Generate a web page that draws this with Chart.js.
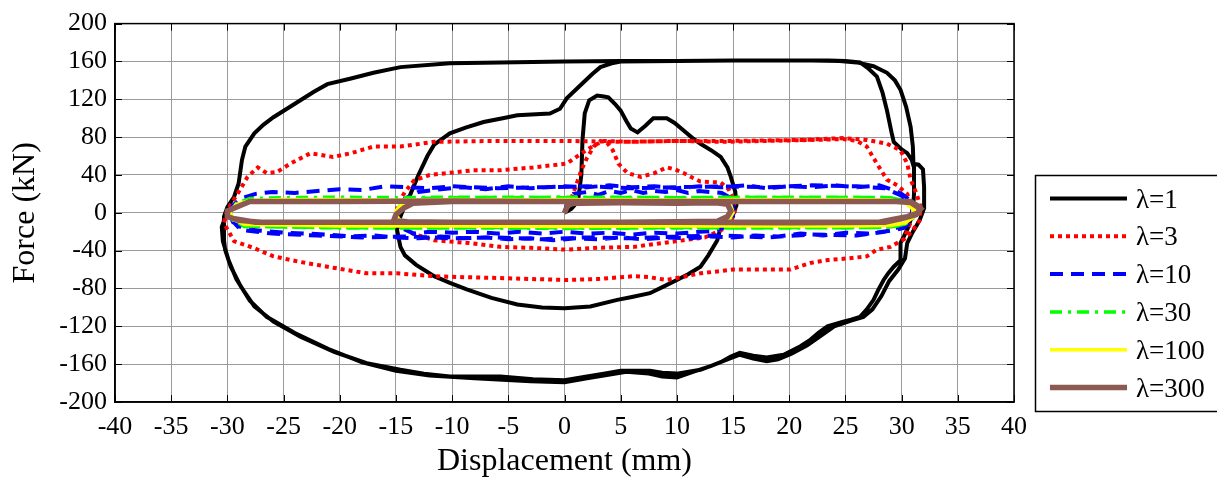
<!DOCTYPE html>
<html>
<head>
<meta charset="utf-8">
<script src="https://cdn.jsdelivr.net/npm/chart.js@4.4.1/dist/chart.umd.min.js"></script>
<style>
  html, body { margin: 0; padding: 0; background: #fff; }
  #wrap { width: 1217px; height: 478px; }
</style>
</head>
<body>
<div id="wrap"><canvas id="hyst" width="1217" height="478"></canvas></div>
<script>
// tick labels
const xTickValues = [-40, -35, -30, -25, -20, -15, -10, -5, 0, 5, 10, 15, 20, 25, 30, 35, 40];
const yTickValues = [-200, -160, -120, -80, -40, 0, 40, 80, 120, 160, 200];

const seriesLabels = ['λ=1', 'λ=3', 'λ=10', 'λ=30', 'λ=100', 'λ=300'];

// [displacement mm, force kN]
const lambda1 = [
  [0,0],[0.6,4],[1.2,12],[1.5,40],[1.6,77],[1.8,105],[2.2,119],[2.9,124],[3.5,123],[3.9,122],[4.5,115],
  [5,108],[5.5,97],[5.9,89],[6.5,85],[7.2,92],[7.9,100],[9.1,100],[9.8,95],[10.6,87],[11.4,79],[12.1,73],
  [13.2,65],[13.9,59],[14.5,48],[14.8,38],[15.2,22],[15.3,8],[15,-2],[14.4,-8],[13.9,-15],[13.6,-29],
  [12.8,-45],[12.1,-57],[11,-65],[10,-71],[8.8,-78],[7.6,-85],[6,-89],[4.7,-92],[2.3,-99],[0,-101],
  [-2,-100],[-4.2,-97],[-6.5,-90],[-8.7,-81],[-10.2,-74],[-11.6,-67],[-13.2,-55],[-14.2,-45],[-14.6,-36],
  [-14.9,-18],[-14.6,-4],[-14.2,8],[-13.7,20],[-13,40],[-12.2,60],[-11.6,72],[-10.2,84],[-8.8,90],
  [-7.2,96],[-5.5,100],[-4.2,103],[-1.3,105],[-0.4,110],[0.2,121],[1,130],[1.7,138],[2.5,147],[3.2,154],
  [4.2,158],[5,160],[10,160.5],[15,161],[20,161],[23.5,161],[25,160.5],[26.3,159],[27,153],[27.8,144],
  [28.3,127],[28.7,108],[29.1,85],[29.3,75],[30,67],[30.5,63],[30.9,56],[31.1,48],[31.1,20],[31,0],
  [30.6,-15],[30.2,-25],[29.9,-32],[29.9,-50],[29.3,-57],[28.8,-64],[28.4,-71],[27.9,-82],[27.5,-92],
  [26.9,-102],[26.3,-110],[25.5,-113],[24.8,-115],[23.4,-120],[22.6,-127],[21.9,-134],[21,-141],
  [19.5,-150],[18,-153],[16.8,-151],[15.6,-148],[14.8,-152],[13.9,-158],[12.1,-166],[10,-170],[8.7,-169],
  [7.6,-167],[5,-167],[3.5,-170],[2,-173],[0,-177],[-2.8,-176],[-5.7,-173],[-10.2,-173],[-12.5,-170],
  [-14.6,-166],[-17.6,-159],[-20.5,-147],[-23.5,-131],[-25.9,-115],[-27.6,-99],[-28.8,-78],[-29.7,-57],
  [-30.2,-39],[-30.3,-29],[-30.3,-4],[-30,6],[-29.4,17],[-29,31],[-28.7,56],[-28.4,70],[-27.6,84],
  [-26.8,93],[-25.9,101],[-24.7,110],[-23.5,119],[-22.3,128],[-21.1,136],[-19,142],[-17,148],[-14.6,154],
  [-10.2,158],[-5.7,159],[0,160],[5,160.5],[15,161],[22,161],[24.5,160.5],[26,159],[27.5,155],[28.7,148],
  [29.4,140],[29.9,130],[30.4,112],[30.8,91],[31,70],[31.05,52],[31.5,51],[31.9,46],[32,27],[32,5],
  [31.6,-8],[31,-20],[30.5,-32],[30.3,-48],[29.7,-60],[28.9,-72],[28.2,-88],[27.4,-102],[26.6,-110],
  [25.5,-114],[24,-120],[22.8,-130],[21.6,-140],[20.2,-149],[19,-155],[18,-157],[16.8,-154],[15.6,-150],
  [14.5,-155],[13,-162],[11.5,-168],[10,-174],[8.7,-173],[7.5,-170],[5.5,-168],[3.5,-172],[2,-175],
  [0,-179],[-3,-178],[-8,-175],[-12,-172],[-15,-167],[-18,-158],[-21,-144],[-24,-127],[-26.5,-110],
  [-28,-93],[-29.2,-70],[-29.9,-50],[-30.4,-30],[-30.5,-15],[-30.2,-5]
];

const lambda3 = [
  [0,0],[0.5,12],[1,28],[1.5,45],[2,58],[2.6,70],[3.2,76],[3.8,74],[4.3,66],[4.8,52],[5.6,42],[6.8,38],
  [8,42],[9.1,48],[9.8,46],[10.6,42],[11.4,37],[12.1,33],[13.9,32],[14.6,25],[15,15],[15.2,3],[14.8,-10],
  [14,-18],[12.5,-26],[10.6,-29],[8,-33],[6.2,-36],[3,-37],[0.2,-39],[-3,-37],[-5.7,-36],[-8.5,-32],
  [-11.6,-29],[-13.5,-22],[-14.6,-12],[-15,-2],[-14.8,10],[-14.2,22],[-13.4,34],[-12,40],[-10.4,42],
  [-8.1,45],[-5.7,45],[-2.8,48],[0.2,52],[1.4,62],[2.6,71],[3.5,76],[6,75],[10,76],[14,75],[18,76],
  [22,77],[24.8,78],[26,76],[26.9,70],[27.8,52],[28.7,35],[29.6,29],[30.5,20],[31,5],[30.8,-10],
  [30.2,-28],[29,-36],[27.8,-39],[26.9,-46],[25.4,-48],[23.4,-50],[21.9,-53],[20.1,-60],[17,-60],
  [15,-60],[12.1,-64],[9.1,-71],[7.5,-68],[6.2,-67],[3,-70],[0.2,-71],[-3,-70],[-5.7,-69],[-9,-68],
  [-11.6,-67],[-14.9,-64],[-17.6,-64],[-20.6,-58],[-23.5,-52],[-25.9,-46],[-27.7,-37],[-29.4,-30],
  [-30.3,-11],[-30,3],[-29.1,20],[-28.8,26],[-28.2,38],[-27.3,48],[-26.5,42],[-25.6,43],[-24.4,52],
  [-22.6,63],[-20.6,59],[-19,63],[-17,70],[-14.6,70],[-11.6,75],[-6,76],[0,76],[5,75],[10,76],[15,76],
  [21,77],[24.8,79],[26.9,77],[28.7,73],[29.9,66],[30.5,52],[30.8,35],[31.3,21],[31.7,6],[31.6,-8],
  [30.9,-20],[30.2,-28]
];

const lambda10 = [
  [0,0],[0.3,12],[0.8,20],[2,22],[3,19],[4,23],[5,21],[6,24],[7,21],[8,23],[9,22],[10,24],[11,21],[12,23],
  [13,22],[14,21],[14.6,17],[15,8],[15,-4],[14.4,-14],[13.5,-19],[12,-20],[10,-22],[8,-21],[6,-23],[4,-21],
  [2,-22],[0,-20],[-2,-22],[-4,-20],[-6,-22],[-8,-20],[-10,-21],[-12,-20],[-13.4,-22],[-14.5,-16],[-15,-6],
  [-14.8,6],[-14.2,15],[-13,22],[-11,25],[-9,27],[-7,25],[-5,28],[-3,26],[0,28],[2,27],[4,29],[6,27],
  [8,28],[10,26],[12,28],[14,27],[16,29],[18,26],[20,28],[22,27],[24,29],[26,27],[28,29],[29.3,24],
  [30,20],[30.8,13],[31.2,4],[31,-8],[30.2,-16],[29,-19],[27,-22],[25,-21],[23,-24],[21,-22],[19,-25],
  [17,-24],[15,-26],[13,-25],[11,-27],[9,-26],[7,-28],[5,-26],[3,-28],[1,-27],[-1,-29],[-3,-27],[-5,-28],
  [-7,-26],[-9,-27],[-11,-25],[-13,-27],[-15,-26],[-17,-24],[-19,-25],[-21,-23],[-23,-22],[-25,-21],
  [-27,-19],[-28.5,-17],[-29.5,-10],[-29.8,0],[-29.5,8],[-28.8,15],[-27.5,20],[-26,22],[-24,21],[-22,23],
  [-20,25],[-18,24],[-16,28],[-14,27],[-12,26],[-10,28],[-6,26],[-2,27],[2,28],[6,26],[10,27],[14,28],
  [18,27],[22,29],[26,28],[28.5,26],[30,18],[31,6],[30.8,-6],[30,-14],[28.5,-20],[26,-24],[22,-23],
  [18,-26],[14,-24],[10,-25],[6,-27],[2,-26],[-2,-28],[-6,-26],[-10,-27],[-14,-25],[-18,-26],[-22,-24],
  [-26,-22],[-28.8,-18],[-29.6,-8]
];

const lambda30 = [
  [0,0],[0.4,10],[1,14],[5,15],[10,15.5],[14,15],[14.8,10],[15,0],[14.6,-10],[13.5,-14],[10,-14.5],
  [5,-14],[0,-14.5],[-5,-14],[-10,-14.5],[-14,-14],[-14.8,-8],[-15,2],[-14.5,10],[-13.5,15],[-10,16],
  [-5,16.5],[0,16],[5,16.5],[10,16],[15,16.5],[20,16],[25,16.5],[29,16],[30.3,13],[31,5],[31,-5],
  [30.3,-12],[29,-15],[25,-16],[20,-15.5],[15,-16],[10,-15.5],[5,-16],[0,-16],[-5,-15.5],[-10,-16],
  [-15,-16],[-20,-15.5],[-25,-15],[-28.5,-14],[-29.5,-8],[-29.8,2],[-29.2,10],[-28,15],[-25,16],
  [-20,16.5],[-15,16],[-10,16.5],[-5,16],[0,16.5],[10,16],[20,16.5],[29,16],[30.5,12],[31.2,3],[31,-6],
  [30.2,-13],[28.5,-15.5],[20,-16],[10,-16],[0,-16.5],[-10,-16],[-20,-16],[-28.5,-14.5],[-29.6,-6]
];

const lambda100 = [
  [0,0],[0.4,9],[1,12],[5,12.5],[10,13],[14,12.5],[14.8,8],[15,0],[14.6,-8],[13.5,-12],[10,-12.5],
  [5,-12],[0,-12.5],[-5,-12],[-10,-12.5],[-14,-12],[-14.8,-6],[-15,2],[-14.5,9],[-13.5,13],[-10,13.5],
  [-5,14],[0,13.5],[5,14],[10,13.5],[15,14],[20,13.5],[25,14],[29,13.5],[30.3,11],[31,4],[31,-5],
  [30.3,-11],[29,-13.5],[25,-14],[20,-13.5],[15,-14],[10,-13.5],[5,-14],[0,-14],[-5,-13.5],[-10,-14],
  [-15,-14],[-20,-13.5],[-25,-13],[-28.5,-12],[-29.5,-7],[-29.8,2],[-29.2,9],[-28,13],[-25,14],
  [-20,14],[-15,13.5],[-10,14],[-5,13.5],[0,14],[10,13.5],[20,14],[29,13.5],[30.5,10],[31.2,3],[31,-5],
  [30.2,-11],[28.5,-13.5],[20,-14],[10,-14],[0,-14.5],[-10,-14],[-20,-14],[-28.5,-12.5],[-29.6,-5]
];

const lambda300 = [
  [0,0],[0.3,8],[0.8,10],[1.4,10],[5,10.5],[10,10],[13.5,10.5],[14.5,9],[14.8,2],[14.5,-4],[13.6,-9],
  [10,-9.5],[5,-10],[0,-10],[-5,-10],[-10,-10],[-14,-9.5],[-15.2,-8],[-15,-2],[-14.3,5],[-13.5,10],
  [-10,12],[-5,12],[0,12],[5,12],[10,12],[15,12],[20,12],[25,12],[29.5,12],[30.8,12],[31.6,6],[31.5,0],
  [30.5,-4],[29.2,-7],[28,-10],[20,-10],[10,-10],[0,-10],[-10,-10],[-20,-10],[-27,-10],[-29,-8],
  [-30,-4],[-30,2],[-29,7],[-28,12],[-25,12],[-20,12],[-10,12.5],[0,12],[10,12],[20,12],[29.5,12],
  [30.8,11],[31.7,4],[31.3,-2],[30,-6],[28.5,-10],[20,-10.5],[10,-10],[0,-10],[-10,-10],[-20,-10],
  [-27.5,-10],[-29.5,-6]
];

const allSeries = [lambda1, lambda3, lambda10, lambda30, lambda100, lambda300];
const lineColors = ['#000000', '#ff0000', '#0000ff', '#00ff00', '#ffff00', 'rgb(140,90,82)'];
const lineDashes = [[], [4, 4], [13, 8], [12, 6, 3, 6], [], []];
const lineWidths = [4, 4, 4, 3.5, 3.5, 5.5];

const serif = '"Liberation Serif", "Times New Roman", serif';

const datasets = allSeries.map((s, i) => ({
  label: seriesLabels[i],
  data: s.map(p => ({ x: p[0], y: p[1] })),
  showLine: true,
  fill: false,
  borderColor: lineColors[i],
  backgroundColor: lineColors[i],
  borderWidth: lineWidths[i],
  borderDash: lineDashes[i],
  pointRadius: 0,
  tension: 0,
  order: allSeries.length - i
}));

// box, inward tick marks and the boxed legend on the right
const frameAndLegend = {
  id: 'frameAndLegend',
  afterDraw(chart) {
    const { ctx, chartArea: a, scales: { x, y } } = chart;
    ctx.save();
    ctx.strokeStyle = '#000';
    ctx.lineWidth = 1;
    ctx.beginPath();
    xTickValues.forEach(v => {
      const px = Math.round(x.getPixelForValue(v)) + 0.5;
      ctx.moveTo(px, a.top); ctx.lineTo(px, a.top + 7);
      ctx.moveTo(px, a.bottom); ctx.lineTo(px, a.bottom - 7);
    });
    yTickValues.forEach(v => {
      const py = Math.round(y.getPixelForValue(v)) + 0.5;
      ctx.moveTo(a.left, py); ctx.lineTo(a.left + 7, py);
      ctx.moveTo(a.right, py); ctx.lineTo(a.right - 7, py);
    });
    ctx.stroke();
    ctx.lineWidth = 1.5;
    ctx.strokeRect(a.left, a.top, a.right - a.left, a.bottom - a.top);

    // legend
    const boxL = 1035.5, boxT = 175.5, boxB = 411.5;
    ctx.lineWidth = 1.5;
    ctx.strokeRect(boxL, boxT, 1225 - boxL, boxB - boxT);
    ctx.font = '27px ' + serif;
    ctx.textBaseline = 'middle';
    ctx.textAlign = 'left';
    chart.data.datasets.forEach((ds, i) => {
      const cy = 198.5 + i * 37.8;
      ctx.beginPath();
      ctx.strokeStyle = ds.borderColor;
      ctx.lineWidth = ds.borderWidth;
      ctx.setLineDash(ds.borderDash);
      ctx.moveTo(1050, cy); ctx.lineTo(1127, cy);
      ctx.stroke();
      ctx.setLineDash([]);
      ctx.fillStyle = '#000';
      ctx.fillText(ds.label, 1136, cy + 2);
    });
    ctx.restore();
  }
};

new Chart(document.getElementById('hyst'), {
  type: 'scatter',
  data: { datasets: datasets },
  options: {
    responsive: false,
    animation: false,
    layout: { padding: { top: 23, right: 203, left: 0, bottom: 0 } },
    plugins: { legend: { display: false }, tooltip: { enabled: false } },
    scales: {
      x: {
        type: 'linear', min: -40, max: 40,
        afterBuildTicks: s => { s.ticks = xTickValues.map(v => ({ value: v })); },
        afterFit: s => { s.height = 76; },
        grid: { color: '#9a9a9a', lineWidth: 1, drawTicks: false },
        border: { color: '#000', width: 1.5 },
        ticks: { color: '#000', font: { family: serif, size: 26 }, padding: 10, maxRotation: 0 },
        title: { display: true, text: 'Displacement (mm)', color: '#000',
                 font: { family: serif, size: 32, lineHeight: 1 }, padding: { top: 0, bottom: 0 } }
      },
      y: {
        type: 'linear', min: -200, max: 200,
        afterBuildTicks: s => { s.ticks = yTickValues.map(v => ({ value: v })); },
        afterFit: s => { s.width = 115; },
        grid: { color: '#9a9a9a', lineWidth: 1, drawTicks: false },
        border: { color: '#000', width: 1.5 },
        ticks: { color: '#000', font: { family: serif, size: 26 }, padding: 8 },
        title: { display: true, text: 'Force (kN)', color: '#000',
                 font: { family: serif, size: 32, lineHeight: 1 }, padding: { top: 10, bottom: 0 } }
      }
    }
  },
  plugins: [frameAndLegend]
});
</script>
</body>
</html>
